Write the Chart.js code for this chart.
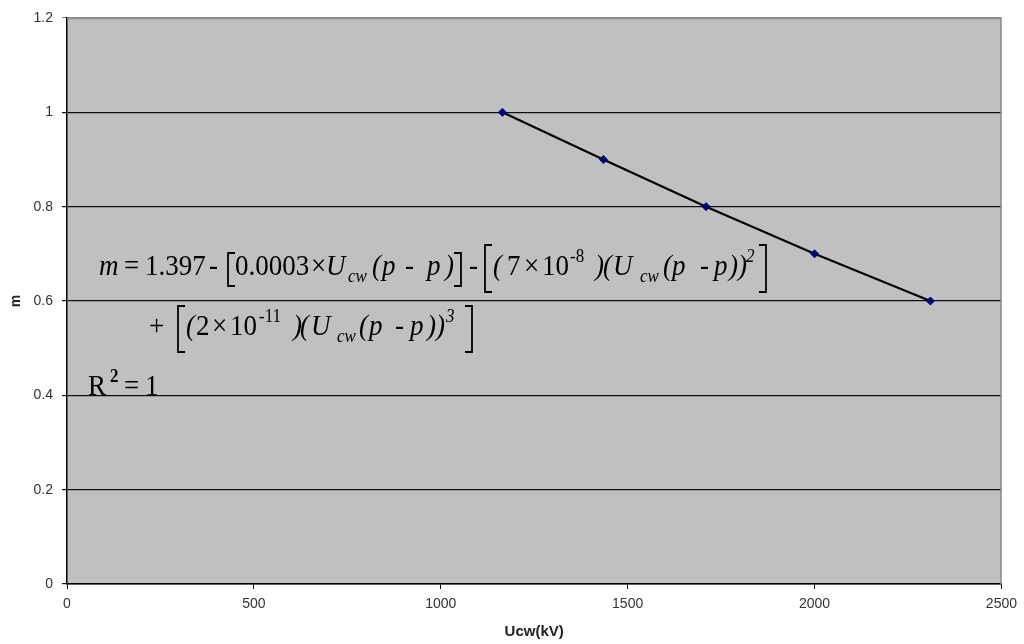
<!DOCTYPE html>
<html>
<head>
<meta charset="utf-8">
<script src="https://cdn.jsdelivr.net/npm/chart.js@4/dist/chart.umd.min.js"></script>
<style>
  body { margin: 0; background: #fff; }
  canvas { display: block; }
</style>
</head>
<body>
<canvas id="chart" width="1024" height="644"></canvas>
<script>
// values
let ucw = [1165, 1435, 1710, 2000, 2310];
let mValues = [1, 0.9, 0.8, 0.7, 0.6];
let xTicks = [0, 500, 1000, 1500, 2000, 2500];
let yTicks = [0, 0.2, 0.4, 0.6, 0.8, 1, 1.2];

const sansFont = '"Liberation Sans", Arial, sans-serif';
const eqFont = '"Liberation Serif", "Times New Roman", serif';

// the fitted equation was pasted as a picture, a little taller than wide
function drawBracket(ctx, x, top, bot, kind) {
  const d = kind === "[" ? 7 : -7;
  ctx.save();
  ctx.strokeStyle = "#000";
  ctx.lineWidth = 1.8;
  ctx.beginPath();
  ctx.moveTo(x + d, top);
  ctx.lineTo(x, top);
  ctx.lineTo(x, bot);
  ctx.lineTo(x + d, bot);
  ctx.stroke();
  ctx.restore();
}

function runText(ctx, items, y) {
  for (const it of items) {
    if (it.b) {
      drawBracket(ctx, it.x, it.top, it.bot, it.b);
      continue;
    }
    const size = it.s ? 17 : 27;
    const dy = it.s === "sub" ? 7 : it.s === "sup" ? -13 : 0;
    ctx.font = (it.i ? "italic " : "") + (it.bold ? "bold " : "") + size + "px " + eqFont;
    ctx.save();
    ctx.translate(it.x, y + dy);
    ctx.scale(1, 1.12);
    ctx.fillText(it.t, 0, 0);
    ctx.restore();
  }
}

let line1 = [
  { t: "m", i: 1, x: 99 }, { t: "=", x: 124 }, { t: "1.397", x: 145 }, { t: "-", x: 209 },
  { b: "[", x: 228, top: 253, bot: 286 }, { t: "0.0003", x: 235 }, { t: "\u00d7", x: 311 },
  { t: "U", i: 1, x: 326 }, { t: "cw", i: 1, s: "sub", x: 348 }, { t: "(", i: 1, x: 372 },
  { t: "p", i: 1, x: 382 }, { t: "-", x: 405 }, { t: "p", i: 1, x: 427 }, { t: ")", i: 1, x: 445 },
  { b: "]", x: 461, top: 253, bot: 286 }, { t: "-", x: 469 },
  { b: "[", x: 485, top: 245, bot: 292 }, { t: "(", i: 1, x: 493 }, { t: "7", x: 507 },
  { t: "\u00d7", x: 524 }, { t: "10", x: 542 }, { t: "-8", s: "sup", x: 570 },
  { t: ")", i: 1, x: 595 }, { t: "(", i: 1, x: 603 }, { t: "U", i: 1, x: 613 },
  { t: "cw", i: 1, s: "sub", x: 640 }, { t: "(", i: 1, x: 663 }, { t: "p", i: 1, x: 672 },
  { t: "-", x: 700 }, { t: "p", i: 1, x: 714 }, { t: "))", i: 1, x: 729 },
  { t: "2", i: 1, s: "sup", x: 746 }, { b: "]", x: 766, top: 245, bot: 292 },
];
let line2 = [
  { t: "+", x: 149 }, { b: "[", x: 178, top: 306, bot: 352 }, { t: "(", i: 1, x: 186 },
  { t: "2", x: 196 }, { t: "\u00d7", x: 212 }, { t: "10", x: 230 }, { t: "-11", s: "sup", x: 259 },
  { t: ")", i: 1, x: 293 }, { t: "(", i: 1, x: 300 }, { t: "U", i: 1, x: 311 },
  { t: "cw", i: 1, s: "sub", x: 337 }, { t: "(", i: 1, x: 359 }, { t: "p", i: 1, x: 369 },
  { t: "-", x: 395 }, { t: "p", i: 1, x: 410 }, { t: "))", i: 1, x: 427 },
  { t: "3", i: 1, s: "sup", x: 446 }, { b: "]", x: 472, top: 306, bot: 352 },
];
let line3 = [
  { t: "R", x: 88 }, { t: "2", bold: 1, s: "sup", x: 110 }, { t: "=", x: 124 }, { t: "1", x: 145 },
];

const plotBack = {
  id: "plotBack",
  beforeDraw(chart) {
    const { ctx, chartArea: a } = chart;
    ctx.save();
    ctx.fillStyle = "#c0c0c0";
    ctx.fillRect(a.left, a.top, a.right - a.left, a.bottom - a.top);
    ctx.restore();
  },
  afterDraw(chart) {
    const { ctx, chartArea: a } = chart;
    ctx.save();
    ctx.strokeStyle = "#8c8c8c";
    ctx.lineWidth = 1.5;
    ctx.beginPath();
    ctx.moveTo(a.left, a.top + 0.5);
    ctx.lineTo(a.right - 0.5, a.top + 0.5);
    ctx.lineTo(a.right - 0.5, a.bottom);
    ctx.stroke();
    ctx.fillStyle = "#000";
    ctx.textBaseline = "alphabetic";
    runText(ctx, line1, 275);
    runText(ctx, line2, 335);
    runText(ctx, line3, 395);
    ctx.restore();
  },
};

new Chart(document.getElementById("chart"), {
  type: "line",
  data: {
    datasets: [
      {
        data: ucw.map((x, i) => ({ x: x, y: mValues[i] })),
        borderColor: "#000",
        borderWidth: 2.2,
        pointStyle: "rectRot",
        pointRadius: 4,
        pointBackgroundColor: "#000080",
        pointBorderColor: "#000080",
        pointBorderWidth: 1,
        tension: 0,
      },
    ],
  },
  options: {
    responsive: false,
    animation: false,
    events: [],
    layout: { padding: { top: 18, right: 21, left: 0, bottom: 0 } },
    plugins: { legend: { display: false }, tooltip: { enabled: false } },
    scales: {
      x: {
        type: "linear",
        min: 0,
        max: 2500,
        afterBuildTicks: (s) => { s.ticks = xTicks.map((v) => ({ value: v })); },
        afterFit: (s) => { s.height = 60; },
        grid: { drawOnChartArea: false, drawTicks: true, tickLength: 5, color: "#000" },
        border: { color: "#000", width: 1.5 },
        ticks: {
          color: "#333",
          font: { family: sansFont, size: 14 },
          padding: 7,
          maxRotation: 0,
          callback: (v) => String(v),
        },
        title: {
          display: true,
          text: "Ucw(kV)",
          color: "#222",
          font: { family: sansFont, size: 15, weight: "bold" },
          padding: { top: 3, bottom: 3 },
        },
      },
      y: {
        min: 0,
        max: 1.2,
        afterBuildTicks: (s) => { s.ticks = yTicks.map((v) => ({ value: v })); },
        afterFit: (s) => { s.width = 67; },
        grid: {
          drawTicks: true,
          tickLength: 5,
          color: (c) => (c.tick && c.tick.value === 1.2 ? "#8c8c8c" : "#111"),
          lineWidth: 1.2,
        },
        border: { color: "#000", width: 1.5 },
        ticks: {
          color: "#333",
          font: { family: sansFont, size: 14 },
          padding: 9,
          callback: (v) => String(v),
        },
        title: {
          display: true,
          text: "m",
          color: "#222",
          font: { family: sansFont, size: 14, weight: "bold" },
          padding: { top: 8, bottom: 4 },
        },
      },
    },
  },
  plugins: [plotBack],
});
</script>
</body>
</html>
